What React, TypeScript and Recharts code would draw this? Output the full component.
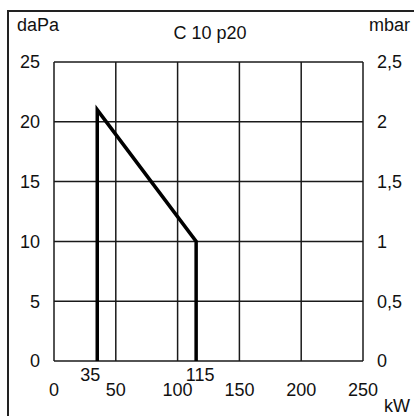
import React from 'react';
import { LineChart, Line, XAxis, YAxis, CartesianGrid } from 'recharts';

// kW on x, pressure (daPa) on y
const outlineKw = [35, 35, 115, 115];
const outlineDaPa = [0, 21, 10, 0];

const kwTicks = [0, 50, 100, 150, 200, 250];
const markTicks = [35, 115];
const daPaTicks = [0, 5, 10, 15, 20, 25];
const mbarTicks = [0, 0.5, 1, 1.5, 2, 2.5];

const allKwTicks = [...kwTicks, ...markTicks].sort((a, b) => a - b);

// 1 mbar = 10 daPa, the right axis just rescales the left one
const data = outlineKw.map((kw, i) => ({ kw, p: outlineDaPa[i], mbar: outlineDaPa[i] / 10 }));

const FONT = '"Liberation Sans", Arial, sans-serif';
const INK = '#111';
const FS = 18;

// range marks (35, 115) sit on a row above the regular kW ticks, a bit off their gridline
const KwTick = (props: any) => {
  const { x, y, payload } = props;
  const v = payload.value;
  const isMark = markTicks.includes(v);
  const dx = isMark ? (v === 35 ? -7 : 4) : 0;
  const dy = isMark ? 0 : 15;
  return (
    <text x={x + dx} y={y + dy} dy="0.71em" textAnchor="middle" fontSize={FS} fontFamily={FONT} fill={INK}>
      {v}
    </text>
  );
};

export default function App() {
  return (
    <div style={{ position: 'absolute', left: 0, top: 0, width: 414, height: 416, overflow: 'hidden', background: '#fff' }}>
      {/* frame around the whole figure (only left/top fall inside the crop) */}
      <div
        style={{
          position: 'absolute', left: 7, top: 10, width: 440, height: 440,
          borderLeft: '2px solid #222', borderTop: '2px solid #222',
        }}
      />
      <div style={{ position: 'absolute', left: 0, top: 0 }}>
        <LineChart width={414} height={416} data={data} margin={{ top: 62, right: 11, bottom: 15, left: 14 }}>
          <CartesianGrid
            stroke="#1a1a1a" strokeWidth={1.5}
            horizontalValues={daPaTicks} verticalValues={kwTicks}
            xAxisId="kw" yAxisId="left"
          />
          <XAxis
            xAxisId="kw" dataKey="kw" type="number" domain={[0, 250]} ticks={allKwTicks}
            height={40} axisLine={false} tickLine={false} tickMargin={1} interval={0}
            tick={<KwTick />}
          />
          <YAxis
            yAxisId="left" type="number" domain={[0, 25]} ticks={daPaTicks}
            width={40} axisLine={false} tickLine={false} tickMargin={8} interval={0}
            tick={{ fontSize: FS, fontFamily: FONT, fill: INK }}
          />
          <YAxis
            yAxisId="right" orientation="right" type="number" domain={[0, 2.5]} ticks={mbarTicks}
            width={40} axisLine={false} tickLine={false} tickMargin={8} interval={0}
            tickFormatter={(v: number) => String(v).replace('.', ',')}
            tick={{ fontSize: FS, fontFamily: FONT, fill: INK, textAnchor: 'start' }}
          />
          {/* same outline in mbar, invisible: only ties the right axis to data */}
          <Line
            xAxisId="kw" yAxisId="right" type="linear" dataKey="mbar"
            stroke="none" dot={false} activeDot={false} isAnimationActive={false}
          />
          <Line
            xAxisId="kw" yAxisId="left" type="linear" dataKey="p"
            stroke="#000" strokeWidth={3.5} dot={false} activeDot={false}
            strokeLinejoin="miter" isAnimationActive={false}
          />
        </LineChart>
      </div>
      <svg width={414} height={416} style={{ position: 'absolute', left: 0, top: 0, pointerEvents: 'none' }}>
        <g fontFamily={FONT} fontSize={FS} fill={INK}>
          <text x={17} y={31}>daPa</text>
          <text x={210} y={39} textAnchor="middle">C 10 p20</text>
          <text x={410} y={31} textAnchor="end">mbar</text>
          <text x={410} y={412} textAnchor="end">kW</text>
        </g>
      </svg>
    </div>
  );
}
